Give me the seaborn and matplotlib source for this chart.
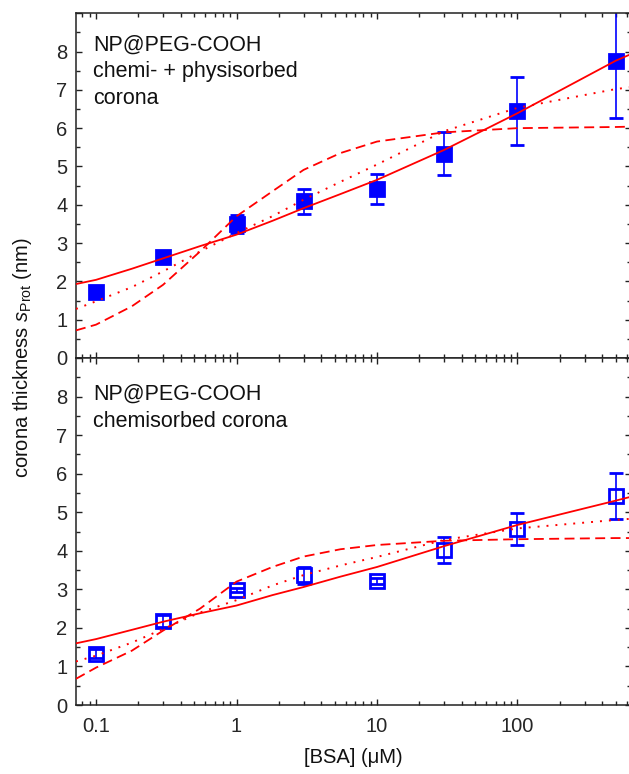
import numpy as np
import matplotlib
matplotlib.use("Agg")
import matplotlib.pyplot as plt
import matplotlib.ticker as mticker
import seaborn as sns

sns.set_theme(style="ticks")
plt.rcParams['font.family'] = ['Liberation Sans', 'DejaVu Sans']
plt.rcParams['mathtext.fontset'] = 'custom'
plt.rcParams['mathtext.rm'] = 'Liberation Sans'
plt.rcParams['mathtext.it'] = 'Liberation Sans:italic'

# measured points
bsa = [0.1, 0.3, 1, 3, 10, 30, 100, 500]
top_s = [1.72, 2.63, 3.50, 4.09, 4.42, 5.33, 6.45, 7.76]
top_err = [0.08, 0.08, 0.24, 0.33, 0.39, 0.56, 0.89, 1.50]
bot_s = [1.33, 2.18, 2.98, 3.36, 3.22, 4.02, 4.56, 5.42]
bot_err = [0.12, 0.15, 0.05, 0.22, 0.08, 0.33, 0.41, 0.59]

# fit curves
fit_x = [0.072, 0.1, 0.18, 0.3, 0.55, 1, 1.8, 3, 5.5, 10, 30, 100, 500, 640]
top_solid = [1.93, 2.04, 2.33, 2.60, 2.92, 3.22, 3.58, 3.91, 4.28, 4.65, 5.43, 6.39, 7.76, 7.93]
top_dotted = [1.28, 1.48, 1.85, 2.26, 2.78, 3.26, 3.70, 4.13, 4.60, 5.05, 5.92, 6.53, 7.02, 7.07]
top_dashed = [0.72, 0.87, 1.35, 1.91, 2.78, 3.70, 4.35, 4.91, 5.35, 5.65, 5.89, 6.00, 6.03, 6.04]
bot_solid = [1.60, 1.71, 1.95, 2.16, 2.38, 2.58, 2.85, 3.06, 3.33, 3.58, 4.12, 4.67, 5.30, 5.40]
bot_dotted = [1.13, 1.28, 1.62, 1.97, 2.40, 2.72, 3.10, 3.37, 3.62, 3.84, 4.28, 4.58, 4.80, 4.83]
bot_dashed = [0.68, 0.97, 1.41, 1.93, 2.50, 3.20, 3.58, 3.85, 4.04, 4.15, 4.26, 4.30, 4.33, 4.33]

blue = '#0000ff'
red = '#ff0000'

fig = plt.figure(figsize=(6.29, 7.74), dpi=100)
ax_top = fig.add_axes([0.1204, 0.5375, 0.8828, 0.4454])
ax_bot = fig.add_axes([0.1204, 0.0891, 0.8828, 0.4484])


def fmt_log(v, pos):
    if v >= 1:
        return f"{v:.0f}"
    return f"{v:g}"


def draw_panel(ax, ys, errs, solid, dotted, dashed, filled, label):
    ax.errorbar(bsa, ys, yerr=errs, fmt='s', ms=10.5,
                mfc=blue if filled else 'none', mec=blue, mew=2.0,
                ecolor=blue, elinewidth=1.2, capsize=5.2, capthick=1.2, zorder=2)
    sns.lineplot(x=fit_x, y=solid, ax=ax, color=red, lw=1.3, estimator=None, zorder=3)
    sns.lineplot(x=fit_x, y=dotted, ax=ax, color=red, lw=1.4, estimator=None, zorder=3,
                 linestyle=(0, (1, 3.6)))
    sns.lineplot(x=fit_x, y=dashed, ax=ax, color=red, lw=1.3, estimator=None, zorder=3,
                 linestyle=(0, (5.5, 3)))
    ax.set_xscale('log')
    ax.set_xlim(0.0717, 643)
    ax.set_ylim(0, 9)
    ax.yaxis.set_major_locator(mticker.MultipleLocator(1))
    ax.yaxis.set_minor_locator(mticker.MultipleLocator(0.5))
    ax.xaxis.set_major_locator(mticker.LogLocator(base=10))
    ax.xaxis.set_minor_locator(mticker.LogLocator(base=10, subs=np.arange(2, 10)))
    ax.xaxis.set_major_formatter(mticker.FuncFormatter(fmt_log))
    ax.xaxis.set_minor_formatter(mticker.NullFormatter())
    ax.yaxis.set_major_formatter(mticker.FuncFormatter(lambda v, p: f"{v:.0f}" if v < 8.5 else ""))
    ax.tick_params(which='both', direction='in', top=True, right=True,
                   labelsize=14.5, color='#222222', width=1.0)
    ax.tick_params(which='major', length=4.2)
    ax.tick_params(which='minor', length=2.6)
    ax.tick_params(axis='y', pad=6)
    ax.tick_params(axis='x', pad=8.5)
    for sp in ax.spines.values():
        sp.set_linewidth(1.1)
        sp.set_color('#222222')
    ax.set_xlabel('')
    ax.set_ylabel('')
    ax.text(0.031, label[1], label[0], transform=ax.transAxes, ha='left', va='top',
            fontsize=15.5, linespacing=1.35, color='#111111')


draw_panel(ax_top, top_s, top_err, top_solid, top_dotted, top_dashed, True,
           ("NP@PEG-COOH\nchemi- + physisorbed\ncorona", 0.938))
draw_panel(ax_bot, bot_s, bot_err, bot_solid, bot_dotted, bot_dashed, False,
           ("NP@PEG-COOH\nchemisorbed corona", 0.925))
ax_top.tick_params(axis='x', labelbottom=False)

fig.text(0.036, 0.5375, r"corona thickness $s_{\mathrm{Prot}}$ (nm)", rotation=90,
         ha='center', va='center', fontsize=14.5, color='#111111')
fig.text(0.561, 0.021, "[BSA] (\u03bcM)", ha='center', va='center',
         fontsize=14.5, color='#111111')

fig.savefig('out.png', dpi=100)
